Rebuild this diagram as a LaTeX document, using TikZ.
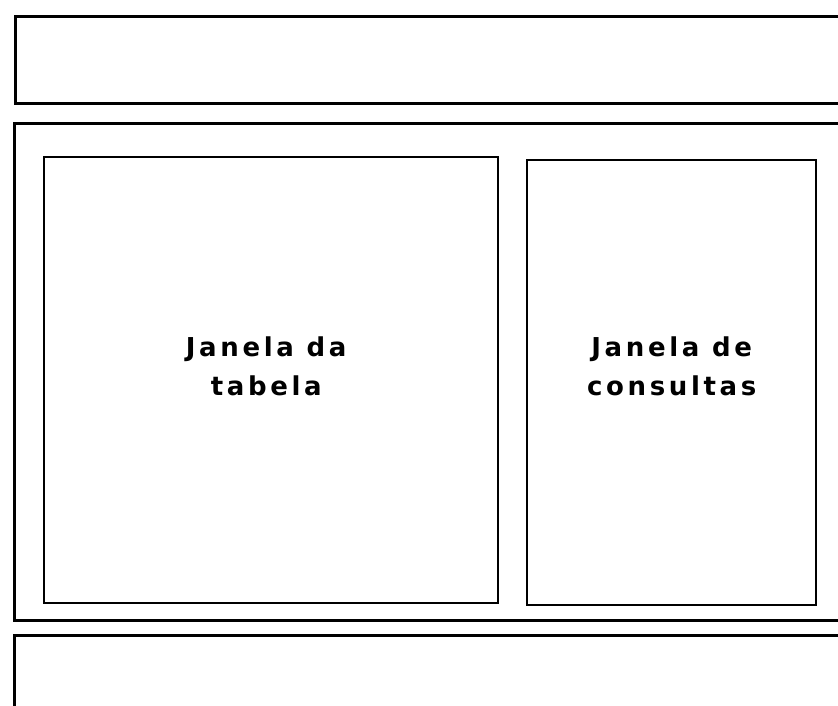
\documentclass[tikz,border=0pt]{standalone}
\usepackage{fontspec}
\newfontfamily\panefont[LetterSpace=14]{DejaVu Sans}
\usetikzlibrary{positioning}

\begin{document}
\begin{tikzpicture}[
    x=1pt, y=-1pt,
    bar/.style={
        rectangle,
        draw=black,
        line width=2.6pt,
        inner sep=0pt,
        anchor=north west
    },
    pane/.style={
        rectangle,
        draw=black,
        line width=2.4pt,
        inner sep=0pt,
        anchor=north west
    },
    panelabel/.style={
        align=center,
        font=\panefont\bfseries\fontsize{26}{39}\selectfont
    }
]
\useasboundingbox (0,0) rectangle (838,705);
\clip (0,0) rectangle (838,705);

% outer bars
\node[bar, minimum width=850pt, minimum height=87pt] (toolbar) at (14,15) {};
\node[bar, minimum width=850pt, minimum height=497pt] (workarea) at (13,122) {};
\node[bar, minimum width=850pt, minimum height=90pt] (statusbar) at (13,634) {};

% windows inside the work area
\node[pane, minimum width=454pt, minimum height=446pt] (tablewin) at (43,156) {};
\node[pane, minimum width=289pt, minimum height=445pt] (querywin) at (526,159) {};

\node[panelabel] (tablelabel) at ([xshift=-5pt, yshift=14pt]tablewin.center)
{Janela da\\tabela};
\node[panelabel] (querylabel) at ([yshift=16pt]querywin.center)
{Janela de\\consultas};

\end{tikzpicture}
\end{document}
